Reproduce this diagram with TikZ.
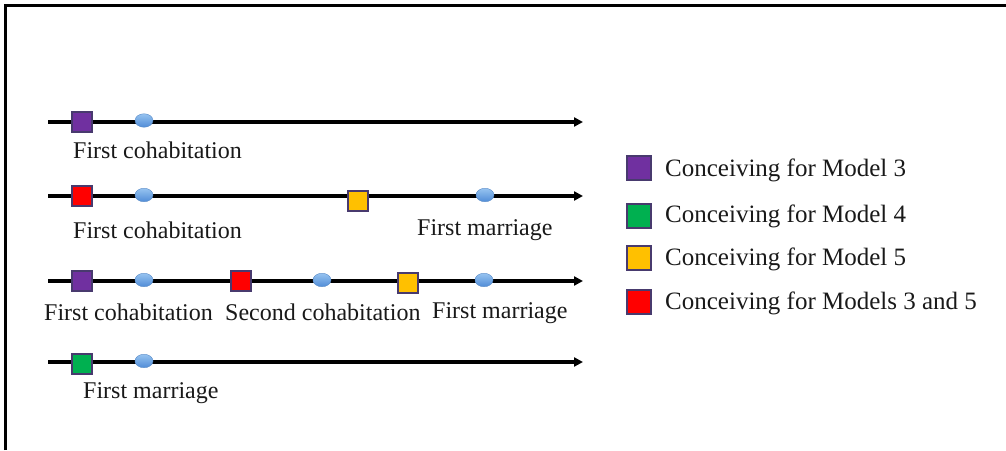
\documentclass[tikz,border=0pt]{standalone}
\usepackage{fontspec}
\setmainfont{Liberation Serif}
\usetikzlibrary{arrows.meta,shapes.geometric}
\definecolor{mpurple}{RGB}{112,48,160}
\definecolor{mgreen}{RGB}{0,176,80}
\definecolor{morange}{RGB}{255,192,0}
\definecolor{mred}{RGB}{255,0,0}
\definecolor{medge}{RGB}{72,58,110}
\definecolor{dotlight}{RGB}{150,195,240}
\definecolor{dotdark}{RGB}{80,140,215}
\definecolor{dotedge}{RGB}{90,140,200}
\begin{document}
\begin{tikzpicture}[x=1pt,y=-1pt,
  sq/.style={draw=medge,line width=1.2pt,minimum width=20pt,minimum height=20pt,inner sep=0pt},
  lsq/.style={draw=medge,line width=1.2pt,minimum width=24pt,minimum height=24pt,inner sep=0pt},
  evt/.style={ellipse,draw=dotedge,line width=0.4pt,minimum width=18pt,minimum height=13.5pt,inner sep=0pt,top color=dotlight,bottom color=dotdark},
  tl/.style={line width=3.2pt,-{Triangle[length=9pt,width=9pt]}},
  lbl/.style={anchor=base west,inner sep=0pt,font=\fontsize{24}{28}\selectfont,text=black!90},
  leg/.style={anchor=base west,inner sep=0pt,font=\fontsize{25}{29}\selectfont,text=black!90},
  frame/.style={line width=3pt}]
\useasboundingbox (0,0) rectangle (1006,450);
% frame
\coordinate (fb) at (5.5,450);
\coordinate (fc) at (5.5,5.5);
\coordinate (fr) at (1006,5.5);
\draw[frame] (fb) -- (fc) -- (fr);
% timeline coordinates
\foreach \i/\y in {1/122,2/196,3/281,4/362}{
  \coordinate (s\i) at (48,\y);
  \coordinate (e\i) at (583,\y);
  \draw[tl] (s\i) -- (e\i);
}
% line 1
\node[sq,fill=mpurple] (a1) at (82,122) {};
\node[evt] (c1) at (144,120.5) {};
\node[lbl] (t1) at (73,158) {First cohabitation};
% line 2
\node[sq,fill=mred] (a2) at (82,196) {};
\node[evt] (c2a) at (144,195) {};
\node[sq,fill=morange] (b2) at (358,201) {};
\node[evt] (c2b) at (485,195) {};
\node[lbl] (t2a) at (73,238) {First cohabitation};
\node[lbl] (t2b) at (417,235) {First marriage};
% line 3
\node[sq,fill=mpurple] (a3) at (82,281) {};
\node[evt] (c3a) at (144,280) {};
\node[sq,fill=mred] (b3) at (241,281) {};
\node[evt] (c3b) at (322,280) {};
\node[sq,fill=morange] (d3) at (408,283) {};
\node[evt] (c3c) at (484,280) {};
\node[lbl] (t3a) at (44,320) {First cohabitation};
\node[lbl] (t3b) at (225,320) {Second cohabitation};
\node[lbl] (t3c) at (432,318) {First marriage};
% line 4
\node[sq,fill=mgreen] (a4) at (82,364) {};
\node[evt] (c4) at (144,361) {};
\node[lbl] (t4) at (83,398) {First marriage};
% legend
\node[lsq,fill=mpurple] (k1) at (639,168) {};
\node[lsq,fill=mgreen] (k2) at (639,216) {};
\node[lsq,fill=morange] (k3) at (639,258) {};
\node[lsq,fill=mred] (k4) at (639,302) {};
\node[leg] (l1) at (665,176) {Conceiving for Model 3};
\node[leg] (l2) at (665,222) {Conceiving for Model 4};
\node[leg] (l3) at (665,265) {Conceiving for Model 5};
\node[leg] (l4) at (665,309) {Conceiving for Models 3 and 5};
\end{tikzpicture}
\end{document}
